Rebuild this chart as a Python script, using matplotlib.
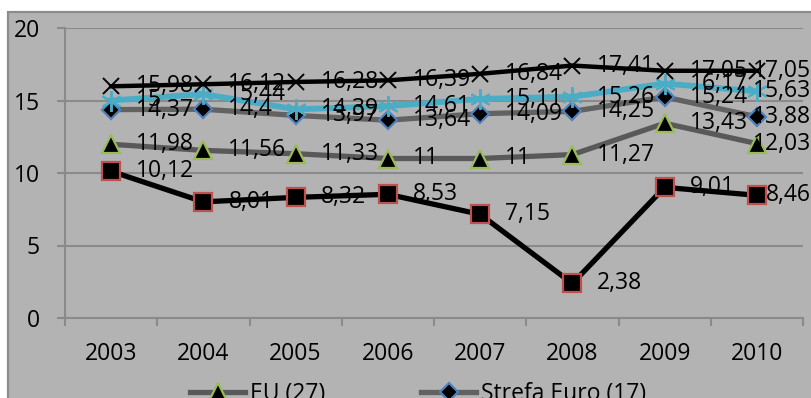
import matplotlib
matplotlib.use("Agg")
import matplotlib.pyplot as plt
from matplotlib.patches import Rectangle

years = ["2003", "2004", "2005", "2006", "2007", "2008", "2009", "2010"]
eu27 = [11.98, 11.56, 11.33, 11, 11, 11.27, 13.43, 12.03]
strefa_euro = [14.37, 14.4, 13.97, 13.64, 14.09, 14.25, 15.24, 13.88]
series_cyan = [15, 15.44, 14.39, 14.61, 15.11, 15.26, 16.17, 15.63]
series_x = [15.98, 16.12, 16.28, 16.39, 16.84, 17.41, 17.05, 17.05]
series_sq = [10.12, 8.01, 8.32, 8.53, 7.15, 2.38, 9.01, 8.46]
yticks = [0, 5, 10, 15, 20]

FONT = "Open Sans"
FS = 16.5
plt.rcParams['font.family'] = [FONT, 'DejaVu Sans']

W, H = 811, 398
fig = plt.figure(figsize=(W / 100, H / 100), dpi=100)
fig.patch.set_facecolor("white")

bg = "#b3b3b3"
grid_c = "#8a8a8a"
fig.patches.append(Rectangle((8 / W, -0.1), 1.2, 1 - 12 / H + 0.1, transform=fig.transFigure,
                             facecolor=bg, edgecolor="#8c8c8c", linewidth=1.6, zorder=-10))

ax = fig.add_axes([65 / W, 1 - 318 / H, (803 - 65) / W, (318 - 28) / H])
ax.set_facecolor(bg)
ax.patch.set_alpha(0)

x = list(range(len(years)))

def fmt(v):
    return f"{v:g}".replace(".", ",")

styles = [
    (eu27, dict(color="#595959", lw=3.8, marker="^", ms=13, mfc="black", mec="#9bbb59", mew=1.6), "EU (27)"),
    (strefa_euro, dict(color="#626262", lw=3.8, marker="D", ms=9.5, mfc="black", mec="#4f81bd", mew=1.6), "Strefa Euro (17)"),
    (series_cyan, dict(color="#4bacc6", lw=4.2, marker=(6, 2, 0), ms=15, mfc="#4bacc6", mec="#4bacc6", mew=1.4), None),
    (series_x, dict(color="black", lw=3.2, marker="x", ms=12, mfc="black", mec="black", mew=1.4), None),
    (series_sq, dict(color="black", lw=3.8, marker="s", ms=12.5, mfc="black", mec="#c0504d", mew=1.6), None),
]

handles = []
for i, (vals, st, name) in enumerate(styles):
    ln, = ax.plot(x, vals, zorder=3 + i, clip_on=False, **st)
    if name:
        handles.append((ln, name))

last = len(years) - 1
for vals, st, name in styles:
    for xi, v in zip(x, vals):
        if xi == last:
            # label pushed inward so it stays inside the chart area
            ax.annotate(fmt(v), (1.0, v), xycoords=("figure fraction", "data"),
                        ha="right", va="center", fontsize=FS, color="black", zorder=20,
                        annotation_clip=False)
        else:
            ax.annotate(fmt(v), (xi, v), xytext=(18, 0), textcoords="offset points",
                        ha="left", va="center", fontsize=FS, color="black", zorder=20,
                        annotation_clip=False)

ax.set_xlim(-0.5, 7.5)
ax.set_ylim(0, 20)
ax.set_yticks(yticks)
ax.set_yticklabels([str(t) for t in yticks], fontsize=FS)
ax.set_xticks(x)
ax.set_xticklabels(years, fontsize=FS)
ax.set_xticks([i - 0.5 for i in range(len(years) + 1)], minor=True)
ax.tick_params(axis="x", which="major", length=0, pad=17)
ax.tick_params(axis="x", which="minor", length=6, width=1.5, color=grid_c, direction="out")
ax.tick_params(axis="y", which="major", length=6, width=1.5, color=grid_c, pad=12)
ax.yaxis.grid(True, color=grid_c, linewidth=1.5)
ax.set_axisbelow(True)
for s in ["top", "right"]:
    ax.spines[s].set_visible(False)
for s in ["left", "bottom"]:
    ax.spines[s].set_color(grid_c)
    ax.spines[s].set_linewidth(1.5)
    ax.spines[s].set_zorder(2)

leg = fig.legend([h for h, _ in handles], [n for _, n in handles], loc="center",
                 bbox_to_anchor=(418 / W, 1 - 394 / H), ncol=2, frameon=False,
                 fontsize=FS, handlelength=2.4, handletextpad=0.2, columnspacing=4.2,
                 borderpad=0)

fig.savefig("out.png", dpi=100)
